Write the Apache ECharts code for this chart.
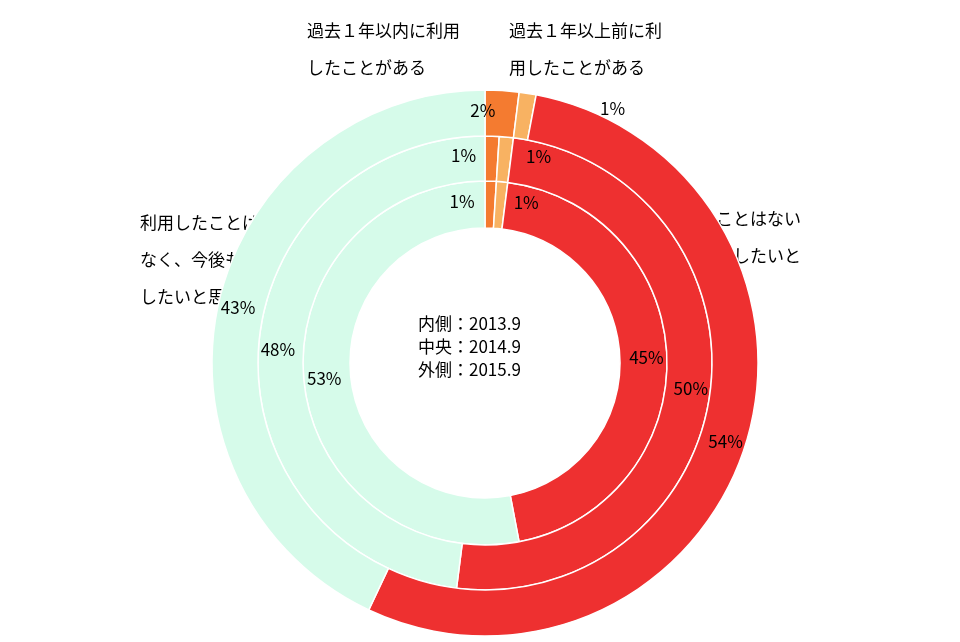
<!DOCTYPE html>
<html lang="ja">
<head>
<meta charset="UTF-8">
<title>利用意向</title>
<script src="https://cdn.jsdelivr.net/npm/echarts@6/dist/echarts.min.js"></script>
<style>
    html, body { margin: 0; background: #fff; }
    #chart { width: 960px; height: 642px; }
</style>
</head>
<body>
<div id="chart"></div>
<script type="text/javascript">
    var categories = ['過去１年以内に利用したことがある', '過去１年以上前に利用したことがある', '利用したことはないが今後利用したいと思う', '利用したことはなく、今後も利用したいと思わない'];
    var ringNames = ['内側：2013.9', '中央：2014.9', '外側：2015.9'];
    var inner2013 = [1, 1, 45, 53];
    var middle2014 = [1, 1, 50, 48];
    var outer2015 = [2, 1, 54, 43];
    var colors = ['#f47b30', '#f8b262', '#ee3030', '#d6fbea'];

    var font = '"Noto Sans CJK JP", sans-serif';
    var radii = [[135, 182], [182, 227], [227, 273]];
    var smallOffsets = [[[-28, 0], [26, 0]], [[-28, 0], [34, 0]], [[-18, 0], [88, -5]]];
    var values = [inner2013, middle2014, outer2015];

    var series = values.map(function (vals, r) {
        return {
            name: ringNames[r],
            type: 'pie',
            center: [485, 363],
            radius: radii[r],
            startAngle: 90,
            clockwise: true,
            silent: true,
            itemStyle: { borderColor: '#ffffff', borderWidth: 1.5 },
            label: { show: true, position: 'inside', formatter: '{c}%', color: '#000', fontSize: 17, fontFamily: font },
            labelLine: { show: false },
            data: vals.map(function (v, i) {
                var d = { name: categories[i], value: v, itemStyle: { color: colors[i] } };
                if (i < 2) d.label = { offset: smallOffsets[r][i] };
                return d;
            })
        };
    });

    function txt(x, y, s, align) {
        return { type: 'text', left: x, top: y, style: { text: s, font: '17px ' + font, fill: '#000', lineHeight: 37, textAlign: align || 'left' } };
    }

    var myChart = echarts.init(document.getElementById('chart'));
    myChart.setOption({
        animation: false,
        series: series,
        graphic: [
            txt(307, 12, '過去１年以内に利用\nしたことがある'),
            txt(509, 12, '過去１年以上前に利\n用したことがある'),
            txt(648, 200, '利用したことはない\nが今後利用したいと\n　　　　思う'),
            txt(140, 204, '利用したことは\nなく、今後も利用\nしたいと思わない'),
            { type: 'text', left: 418, top: 312, style: { text: ringNames.join('\n'), font: '17px ' + font, fill: '#000', lineHeight: 23 } }
        ]
    });
</script>
</body>
</html>
